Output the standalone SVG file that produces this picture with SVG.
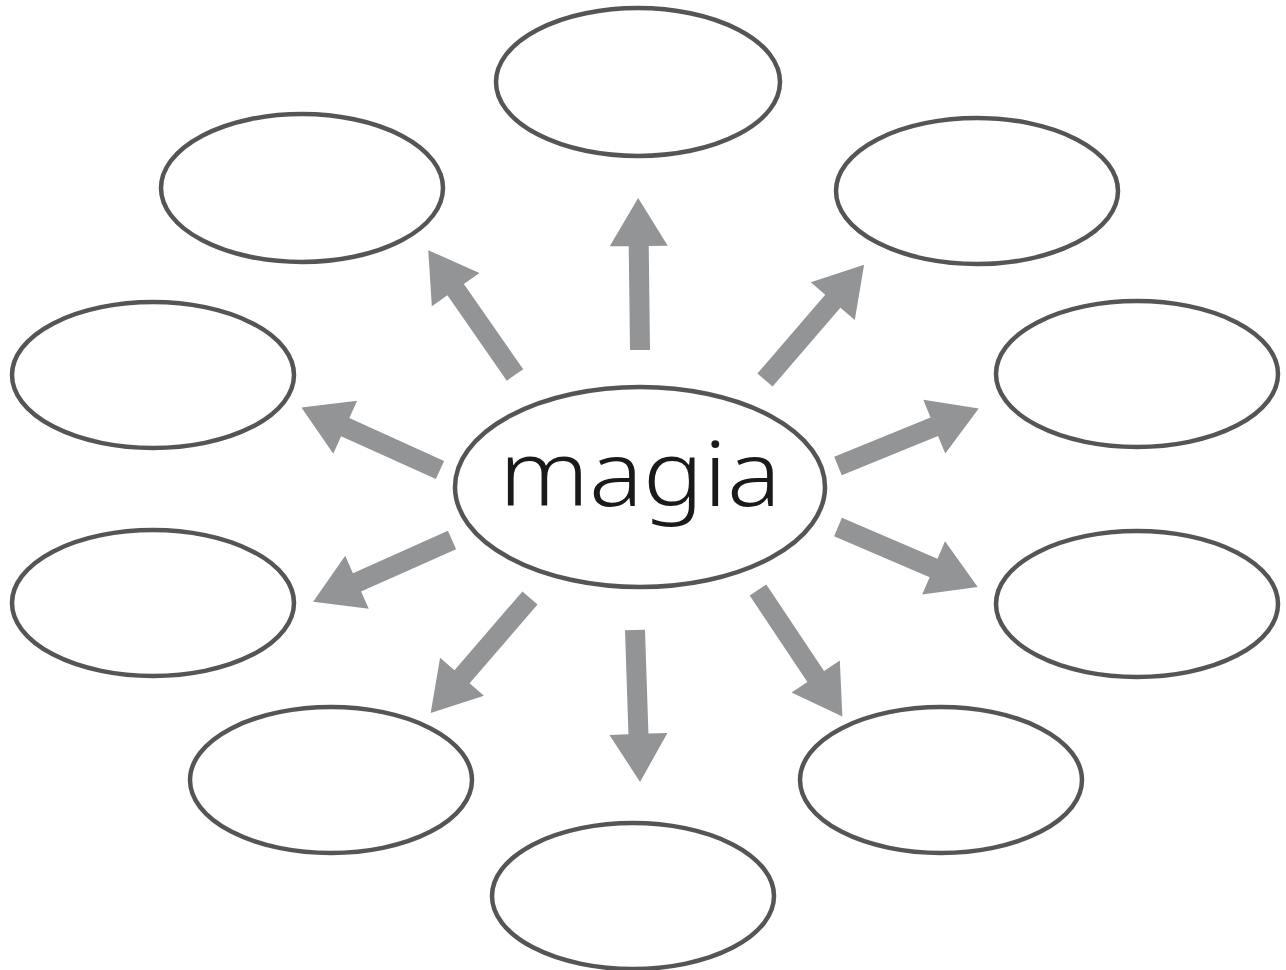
<svg xmlns="http://www.w3.org/2000/svg" xmlns:xlink="http://www.w3.org/1999/xlink" width="1286" height="970" viewBox="0 0 1286 970">
<style>
.node{fill:#fff;stroke:#555;stroke-width:4.5}
.arrow{fill:#939496}
.label{font-family:"Noto Sans","DejaVu Sans",sans-serif;font-weight:300;font-size:90px;fill:#1a1a1a}
</style>
<defs>
<path id="arr" d="M0,-10 L104,-10 L104,-29 L152,0 L104,29 L104,10 L0,10 Z"/>
</defs>
<rect width="1286" height="970" fill="#fff"/>
<g id="connectors" class="arrow">
<use href="#arr" transform="translate(640,350) rotate(-90.7)"/>
<use href="#arr" transform="translate(515,375) rotate(-124.8)"/>
<use href="#arr" transform="translate(765,380) rotate(-49.3)"/>
<use href="#arr" transform="translate(440,470) rotate(-155.7)"/>
<use href="#arr" transform="translate(838,466) rotate(-22.2)"/>
<use href="#arr" transform="translate(452,540) rotate(156)"/>
<use href="#arr" transform="translate(838,527) rotate(23.2)"/>
<use href="#arr" transform="translate(530,598) rotate(130.8)"/>
<use href="#arr" transform="translate(758,590) rotate(56.3)"/>
<use href="#arr" transform="translate(635,630) rotate(88.1)"/>
</g>
<g id="center"><ellipse class="node" cx="640" cy="487" rx="185" ry="100"/><text class="label" x="640" y="506" text-anchor="middle" textLength="282" lengthAdjust="spacingAndGlyphs">magia</text></g>
<g id="n1"><ellipse class="node" cx="638" cy="82" rx="142" ry="74"/></g>
<g id="n2"><ellipse class="node" cx="302" cy="188" rx="141" ry="74"/></g>
<g id="n3"><ellipse class="node" cx="977" cy="191" rx="141" ry="73"/></g>
<g id="n4"><ellipse class="node" cx="153" cy="375" rx="141" ry="73"/></g>
<g id="n5"><ellipse class="node" cx="1137" cy="374" rx="141" ry="73"/></g>
<g id="n6"><ellipse class="node" cx="153" cy="603" rx="141" ry="73"/></g>
<g id="n7"><ellipse class="node" cx="1137" cy="604" rx="141" ry="73"/></g>
<g id="n8"><ellipse class="node" cx="331" cy="780" rx="141" ry="73"/></g>
<g id="n9"><ellipse class="node" cx="941" cy="780" rx="141" ry="73"/></g>
<g id="n10"><ellipse class="node" cx="633" cy="896" rx="141" ry="73"/></g>
</svg>
